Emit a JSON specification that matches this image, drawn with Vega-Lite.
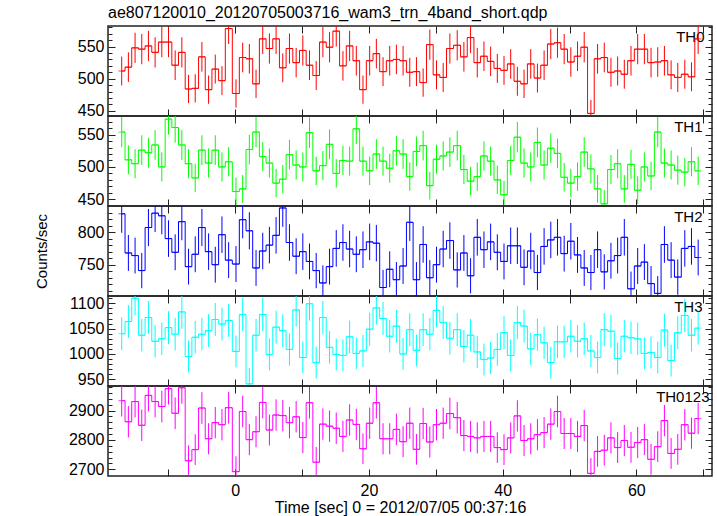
{
"$schema": "https://vega.github.io/schema/vega-lite/v6.json",
"padding": {"left": 33, "top": 3, "right": 5, "bottom": 2},
"autosize": {"type": "pad"},
"spacing": 0,
"bounds": "flush",
"config": {
  "font": "Liberation Sans",
  "view": {"stroke": "#222222", "strokeWidth": 1.5},
  "axis": {"domain": false, "grid": false, "tickColor": "#222222", "tickWidth": 1, "labelColor": "#000000", "labelFontSize": 16, "titleColor": "#000000", "titleFontWeight": "normal", "titleFontSize": 15, "labelOverlap": false, "format": "d"}
},
"data": {"values": [
{"t":-17,"a":512,"ea":22.5,"b":554,"eb":23.5,"c":828,"ec":29,"d":1040,"ed":32.5,"f":2934,"ef":54},
{"t":-16,"a":518,"ea":23,"b":511,"eb":22.5,"c":768,"ec":27.5,"d":1064,"ed":32.5,"f":2862,"ef":53.5},
{"t":-15,"a":548,"ea":23.5,"b":505,"eb":22.5,"c":764,"ec":27.5,"d":1110,"ed":33.5,"f":2931,"ef":54},
{"t":-14,"a":546,"ea":23.5,"b":526,"eb":23,"c":741,"ec":27,"d":1037,"ed":32,"f":2850,"ef":53.5},
{"t":-13,"a":551,"ea":23.5,"b":522,"eb":23,"c":807,"ec":28.5,"d":1072,"ed":32.5,"f":2952,"ef":54.5},
{"t":-12,"a":541,"ea":23.5,"b":534,"eb":23,"c":829,"ec":29,"d":1025,"ed":32,"f":2931,"ef":54},
{"t":-11,"a":557,"ea":23.5,"b":500,"eb":22.5,"c":825,"ec":28.5,"d":1030,"ed":32,"f":2914,"ef":54},
{"t":-10,"a":557,"ea":23.5,"b":574,"eb":24,"c":790,"ec":28,"d":1052,"ed":32.5,"f":2975,"ef":54.5},
{"t":-9,"a":521,"ea":23,"b":561,"eb":23.5,"c":769,"ec":27.5,"d":1039,"ed":32,"f":2891,"ef":54},
{"t":-8,"a":541,"ea":23.5,"b":534,"eb":23,"c":816,"ec":28.5,"d":1083,"ed":33,"f":2978,"ef":54.5},
{"t":-7,"a":484,"ea":22,"b":505,"eb":22.5,"c":747,"ec":27.5,"d":995,"ed":31.5,"f":2729,"ef":52},
{"t":-6,"a":485,"ea":22,"b":483,"eb":22,"c":766,"ec":27.5,"d":1033,"ed":32,"f":2767,"ef":52.5},
{"t":-5,"a":534,"ea":23,"b":526,"eb":23,"c":807,"ec":28.5,"d":1039,"ed":32,"f":2909,"ef":54},
{"t":-4,"a":483,"ea":22,"b":506,"eb":22.5,"c":770,"ec":28,"d":1046,"ed":32.5,"f":2804,"ef":53},
{"t":-3,"a":515,"ea":22.5,"b":526,"eb":23,"c":750,"ec":27.5,"d":1068,"ed":32.5,"f":2859,"ef":53.5},
{"t":-2,"a":497,"ea":22.5,"b":500,"eb":22.5,"c":796,"ec":28,"d":1059,"ed":32.5,"f":2852,"ef":53.5},
{"t":-1,"a":578,"ea":24,"b":508,"eb":22.5,"c":757,"ec":27.5,"d":1066,"ed":32.5,"f":2910,"ef":54},
{"t":0.1,"a":477,"ea":22,"b":462,"eb":21.5,"c":751,"ec":27.5,"d":1005,"ed":31.5,"f":2692,"ef":52},
{"t":1.1,"a":533,"ea":23,"b":466,"eb":21.5,"c":819,"ec":28.5,"d":1078,"ed":33,"f":2897,"ef":54},
{"t":2.1,"a":531,"ea":23,"b":527,"eb":23,"c":802,"ec":28.5,"d":941,"ed":31,"f":2801,"ef":53},
{"t":3.1,"a":492,"ea":22,"b":554,"eb":23.5,"c":745,"ec":27.5,"d":1037,"ed":32,"f":2828,"ef":53},
{"t":4.1,"a":562,"ea":23.5,"b":516,"eb":22.5,"c":771,"ec":28,"d":1078,"ed":33,"f":2928,"ef":54},
{"t":5.1,"a":547,"ea":23.5,"b":506,"eb":22.5,"c":780,"ec":28,"d":999,"ed":31.5,"f":2834,"ef":53},
{"t":6.1,"a":562,"ea":23.5,"b":475,"eb":22,"c":795,"ec":28,"d":1053,"ed":32.5,"f":2885,"ef":53.5},
{"t":7.1,"a":517,"ea":22.5,"b":481,"eb":22,"c":837,"ec":29,"d":1046,"ed":32.5,"f":2883,"ef":53.5},
{"t":8.1,"a":547,"ea":23.5,"b":519,"eb":23,"c":784,"ec":28,"d":1009,"ed":32,"f":2859,"ef":53.5},
{"t":9.1,"a":525,"ea":23,"b":503,"eb":22.5,"c":763,"ec":27.5,"d":1087,"ed":33,"f":2879,"ef":53.5},
{"t":10.1,"a":544,"ea":23.5,"b":500,"eb":22.5,"c":770,"ec":28,"d":993,"ed":31.5,"f":2808,"ef":53},
{"t":11.1,"a":521,"ea":23,"b":553,"eb":23.5,"c":755,"ec":27.5,"d":1099,"ed":33,"f":2927,"ef":54},
{"t":12.1,"a":505,"ea":22.5,"b":494,"eb":22,"c":741,"ec":27,"d":983,"ed":31.5,"f":2724,"ef":52},
{"t":13.1,"a":557,"ea":23.5,"b":502,"eb":22.5,"c":722,"ec":27,"d":1072,"ed":32.5,"f":2854,"ef":53.5},
{"t":14.1,"a":549,"ea":23.5,"b":535,"eb":23,"c":747,"ec":27.5,"d":1013,"ed":32,"f":2847,"ef":53.5},
{"t":15.1,"a":574,"ea":24,"b":490,"eb":22,"c":775,"ec":28,"d":999,"ed":31.5,"f":2840,"ef":53.5},
{"t":16.1,"a":520,"ea":23,"b":510,"eb":22.5,"c":784,"ec":28,"d":997,"ed":31.5,"f":2812,"ef":53},
{"t":17.1,"a":551,"ea":23.5,"b":509,"eb":22.5,"c":774,"ec":28,"d":1034,"ed":32,"f":2868,"ef":53.5},
{"t":18.1,"a":528,"ea":23,"b":559,"eb":23.5,"c":766,"ec":27.5,"d":1001,"ed":31.5,"f":2853,"ef":53.5},
{"t":19.1,"a":483,"ea":22,"b":509,"eb":22.5,"c":773,"ec":28,"d":1006,"ed":31.5,"f":2770,"ef":52.5},
{"t":20.1,"a":528,"ea":23,"b":494,"eb":22,"c":785,"ec":28,"d":1049,"ed":32.5,"f":2857,"ef":53.5},
{"t":21.1,"a":539,"ea":23,"b":520,"eb":23,"c":783,"ec":28,"d":1091,"ed":33,"f":2927,"ef":54},
{"t":22.1,"a":511,"ea":22.5,"b":509,"eb":22.5,"c":715,"ec":27,"d":1070,"ed":32.5,"f":2804,"ef":53},
{"t":23.1,"a":528,"ea":23,"b":498,"eb":22.5,"c":743,"ec":27.5,"d":1035,"ed":32,"f":2804,"ef":53},
{"t":24.1,"a":530,"ea":23,"b":525,"eb":23,"c":727,"ec":27,"d":1055,"ed":32.5,"f":2836,"ef":53.5},
{"t":25.1,"a":528,"ea":23,"b":520,"eb":23,"c":748,"ec":27.5,"d":1000,"ed":31.5,"f":2794,"ef":53},
{"t":26.1,"a":510,"ea":22.5,"b":485,"eb":22,"c":815,"ec":28.5,"d":1048,"ed":32.5,"f":2857,"ef":53.5},
{"t":27.1,"a":511,"ea":22.5,"b":524,"eb":23,"c":727,"ec":27,"d":1007,"ed":31.5,"f":2768,"ef":52.5},
{"t":28.1,"a":494,"ea":22,"b":533,"eb":23,"c":781,"ec":28,"d":1048,"ed":32.5,"f":2856,"ef":53.5},
{"t":29.1,"a":553,"ea":23.5,"b":471,"eb":21.5,"c":730,"ec":27,"d":1039,"ed":32,"f":2793,"ef":53},
{"t":30.1,"a":506,"ea":22.5,"b":512,"eb":22.5,"c":750,"ec":27.5,"d":1086,"ed":33,"f":2852,"ef":53.5},
{"t":31.1,"a":502,"ea":22.5,"b":517,"eb":22.5,"c":774,"ec":28,"d":1062,"ed":32.5,"f":2857,"ef":53.5},
{"t":32.1,"a":547,"ea":23.5,"b":523,"eb":23,"c":787,"ec":28,"d":1031,"ed":32,"f":2890,"ef":54},
{"t":33.2,"a":552,"ea":23.5,"b":533,"eb":23,"c":742,"ec":27,"d":1048,"ed":32.5,"f":2876,"ef":53.5},
{"t":34.2,"a":534,"ea":23,"b":496,"eb":22.5,"c":768,"ec":27.5,"d":1015,"ed":32,"f":2815,"ef":53},
{"t":35.2,"a":564,"ea":24,"b":478,"eb":22,"c":733,"ec":27,"d":1037,"ed":32,"f":2812,"ef":53},
{"t":36.2,"a":525,"ea":23,"b":485,"eb":22,"c":792,"ec":28,"d":1004,"ed":31.5,"f":2807,"ef":53},
{"t":37.2,"a":535,"ea":23,"b":517,"eb":22.5,"c":773,"ec":28,"d":989,"ed":31.5,"f":2812,"ef":53},
{"t":38.2,"a":527,"ea":23,"b":509,"eb":22.5,"c":785,"ec":28,"d":992,"ed":31.5,"f":2812,"ef":53},
{"t":39.2,"a":516,"ea":22.5,"b":480,"eb":22,"c":769,"ec":27.5,"d":1009,"ed":32,"f":2774,"ef":52.5},
{"t":40.2,"a":513,"ea":22.5,"b":457,"eb":21.5,"c":755,"ec":27.5,"d":1042,"ed":32.5,"f":2767,"ef":52.5},
{"t":41.2,"a":523,"ea":23,"b":510,"eb":22.5,"c":779,"ec":28,"d":997,"ed":31.5,"f":2807,"ef":53},
{"t":42.2,"a":496,"ea":22.5,"b":546,"eb":23.5,"c":779,"ec":28,"d":1062,"ed":32.5,"f":2882,"ef":53.5},
{"t":43.2,"a":492,"ea":22,"b":506,"eb":22.5,"c":746,"ec":27.5,"d":1055,"ed":32.5,"f":2798,"ef":53},
{"t":44.2,"a":523,"ea":23,"b":500,"eb":22.5,"c":771,"ec":28,"d":1010,"ed":32,"f":2804,"ef":53},
{"t":45.2,"a":501,"ea":22.5,"b":538,"eb":23,"c":738,"ec":27,"d":1038,"ed":32,"f":2818,"ef":53},
{"t":46.2,"a":521,"ea":23,"b":503,"eb":22.5,"c":778,"ec":28,"d":1022,"ed":32,"f":2825,"ef":53},
{"t":47.2,"a":554,"ea":23.5,"b":529,"eb":23,"c":788,"ec":28,"d":983,"ed":31.5,"f":2854,"ef":53.5},
{"t":48.2,"a":556,"ea":23.5,"b":521,"eb":23,"c":792,"ec":28,"d":1024,"ed":32,"f":2897,"ef":54},
{"t":49.2,"a":546,"ea":23.5,"b":484,"eb":22,"c":767,"ec":27.5,"d":1024,"ed":32,"f":2822,"ef":53},
{"t":50.2,"a":526,"ea":23,"b":475,"eb":22,"c":786,"ec":28,"d":1035,"ed":32,"f":2822,"ef":53},
{"t":51.2,"a":535,"ea":23,"b":485,"eb":22,"c":765,"ec":27.5,"d":1025,"ed":32,"f":2812,"ef":53},
{"t":52.2,"a":549,"ea":23.5,"b":523,"eb":23,"c":745,"ec":27.5,"d":1030,"ed":32,"f":2849,"ef":53.5},
{"t":53.2,"a":446,"ea":21,"b":497,"eb":22.5,"c":738,"ec":27,"d":1006,"ed":31.5,"f":2686,"ef":52},
{"t":54.2,"a":531,"ea":23,"b":466,"eb":21.5,"c":773,"ec":28,"d":993,"ed":31.5,"f":2761,"ef":52.5},
{"t":55.2,"a":533,"ea":23,"b":443,"eb":21,"c":739,"ec":27,"d":1048,"ed":32.5,"f":2765,"ef":52.5},
{"t":56.2,"a":510,"ea":22.5,"b":496,"eb":22.5,"c":756,"ec":27.5,"d":1045,"ed":32.5,"f":2807,"ef":53},
{"t":57.2,"a":512,"ea":22.5,"b":505,"eb":22.5,"c":764,"ec":27.5,"d":991,"ed":31.5,"f":2774,"ef":52.5},
{"t":58.2,"a":507,"ea":22.5,"b":466,"eb":21.5,"c":792,"ec":28,"d":1035,"ed":32,"f":2798,"ef":53},
{"t":59.2,"a":528,"ea":23,"b":504,"eb":22.5,"c":713,"ec":26.5,"d":1032,"ed":32,"f":2775,"ef":52.5},
{"t":60.2,"a":546,"ea":23.5,"b":464,"eb":21.5,"c":748,"ec":27.5,"d":1030,"ed":32,"f":2791,"ef":53},
{"t":61.2,"a":546,"ea":23.5,"b":500,"eb":22.5,"c":754,"ec":27.5,"d":1001,"ed":31.5,"f":2801,"ef":53},
{"t":62.2,"a":525,"ea":23,"b":486,"eb":22,"c":721,"ec":27,"d":1003,"ed":31.5,"f":2734,"ef":52.5},
{"t":63.2,"a":526,"ea":23,"b":554,"eb":23.5,"c":706,"ec":26.5,"d":993,"ed":31.5,"f":2777,"ef":52.5},
{"t":64.2,"a":528,"ea":23,"b":506,"eb":22.5,"c":781,"ec":28,"d":1047,"ed":32.5,"f":2866,"ef":53.5},
{"t":65.2,"a":506,"ea":22.5,"b":503,"eb":22.5,"c":757,"ec":27.5,"d":987,"ed":31.5,"f":2754,"ef":52.5},
{"t":66.2,"a":502,"ea":22.5,"b":495,"eb":22.5,"c":731,"ec":27,"d":1042,"ed":32.5,"f":2768,"ef":52.5},
{"t":67.25,"a":507,"ea":22.5,"b":492,"eb":22,"c":775,"ec":28,"d":1076,"ed":33,"f":2852,"ef":53.5},
{"t":68.25,"a":503,"ea":22.5,"b":508,"eb":22.5,"c":778,"ec":28,"d":1037,"ed":32,"f":2823,"ef":53},
{"t":69.25,"a":562,"ea":23.5,"b":494,"eb":22,"c":761,"ec":27.5,"d":1051,"ed":32.5,"f":2873,"ef":53.5}
]},
"vconcat": [
{
 "width": 604, "height": 90,
 "title": {"text": "ae807120010_20120705003716_wam3_trn_4band_short.qdp", "anchor": "start", "frame": "group", "fontSize": 16, "fontWeight": "normal", "color": "#000000", "offset": 5},
 "layer": [
  {"mark": {"type": "errorbar", "color": "#ff0000", "thickness": 1},
   "encoding": {
    "x": {"field": "t", "type": "quantitative", "scale": {"domain": [-19.05, 71.32], "nice": false, "zero": false}, "axis": {"orient": "bottom", "values": [-10,0,10,20,30,40,50,60,70], "tickSize": -7, "labels": false, "title": null}},
    "y": {"field": "a", "type": "quantitative", "scale": {"domain": [442, 582], "nice": false, "zero": false, "clamp": true}, "axis": {"orient": "left", "values": [450,500,550], "tickSize": -7, "labelPadding": 11, "title": null}},
    "yError": {"field": "ea"}}},
  {"mark": {"type": "line", "interpolate": "step", "color": "#ff0000", "strokeWidth": 1},
   "encoding": {
    "x": {"field": "t", "type": "quantitative", "axis": {"orient": "top", "values": [-10,0,10,20,30,40,50,60,70], "tickSize": -7, "labels": false, "title": null}},
    "y": {"field": "a", "type": "quantitative", "axis": {"orient": "right", "values": [450,500,550], "tickSize": -7, "labels": false, "title": "TH0", "titleAngle": 0, "titleAlign": "right", "titleBaseline": "alphabetic", "titleX": -8, "titleY": 15}}}},
  {"mark": {"type": "tick", "orient": "horizontal", "size": 6.7, "thickness": 1, "color": "#ff0000"},
   "encoding": {
    "x": {"field": "t", "type": "quantitative", "axis": null},
    "y": {"field": "a", "type": "quantitative", "axis": {"orient": "left", "values": [460,470,480,490,510,520,530,540,560,570,580], "tickSize": -4, "labels": false, "title": null}}}},
  {"mark": {"type": "point", "opacity": 0},
   "encoding": {
    "x": {"field": "t", "type": "quantitative", "axis": null},
    "y": {"field": "a", "type": "quantitative", "axis": {"orient": "right", "values": [460,470,480,490,510,520,530,540,560,570,580], "tickSize": -4, "labels": false, "title": null}}}}
 ],
 "resolve": {"axis": {"x": "independent", "y": "independent"}}
},
{
 "width": 604, "height": 90,
 "layer": [
  {"mark": {"type": "errorbar", "color": "#00ff00", "thickness": 1},
   "encoding": {
    "x": {"field": "t", "type": "quantitative", "scale": {"domain": [-19.05, 71.32], "nice": false, "zero": false}, "axis": {"orient": "bottom", "values": [-10,0,10,20,30,40,50,60,70], "tickSize": -7, "labels": false, "title": null}},
    "y": {"field": "b", "type": "quantitative", "scale": {"domain": [439.6, 578.8], "nice": false, "zero": false, "clamp": true}, "axis": {"orient": "left", "values": [450,500,550], "tickSize": -7, "labelPadding": 11, "title": null}},
    "yError": {"field": "eb"}}},
  {"mark": {"type": "line", "interpolate": "step", "color": "#00ff00", "strokeWidth": 1},
   "encoding": {
    "x": {"field": "t", "type": "quantitative", "axis": {"orient": "top", "values": [-10,0,10,20,30,40,50,60,70], "tickSize": -7, "labels": false, "title": null}},
    "y": {"field": "b", "type": "quantitative", "axis": {"orient": "right", "values": [450,500,550], "tickSize": -7, "labels": false, "title": "TH1", "titleAngle": 0, "titleAlign": "right", "titleBaseline": "alphabetic", "titleX": -10, "titleY": 15}}}},
  {"mark": {"type": "tick", "orient": "horizontal", "size": 6.7, "thickness": 1, "color": "#00ff00"},
   "encoding": {
    "x": {"field": "t", "type": "quantitative", "axis": null},
    "y": {"field": "b", "type": "quantitative", "axis": {"orient": "left", "values": [460,470,480,490,510,520,530,540,560,570], "tickSize": -4, "labels": false, "title": null}}}},
  {"mark": {"type": "point", "opacity": 0},
   "encoding": {
    "x": {"field": "t", "type": "quantitative", "axis": null},
    "y": {"field": "b", "type": "quantitative", "axis": {"orient": "right", "values": [460,470,480,490,510,520,530,540,560,570], "tickSize": -4, "labels": false, "title": null}}}}
 ],
 "resolve": {"axis": {"x": "independent", "y": "independent"}}
},
{
 "width": 604, "height": 90,
 "layer": [
  {"mark": {"type": "errorbar", "color": "#0000ff", "thickness": 1},
   "encoding": {
    "x": {"field": "t", "type": "quantitative", "scale": {"domain": [-19.05, 71.32], "nice": false, "zero": false}, "axis": {"orient": "bottom", "values": [-10,0,10,20,30,40,50,60,70], "tickSize": -7, "labels": false, "title": null}},
    "y": {"field": "c", "type": "quantitative", "scale": {"domain": [702, 840], "nice": false, "zero": false, "clamp": true}, "axis": {"orient": "left", "values": [750,800], "tickSize": -7, "labelPadding": 11, "title": "Counts/sec", "titleX": -67, "titleY": 45, "titleAngle": 270, "titleAlign": "center", "titleBaseline": "middle"}},
    "yError": {"field": "ec"}}},
  {"mark": {"type": "line", "interpolate": "step", "color": "#0000ff", "strokeWidth": 1},
   "encoding": {
    "x": {"field": "t", "type": "quantitative", "axis": {"orient": "top", "values": [-10,0,10,20,30,40,50,60,70], "tickSize": -7, "labels": false, "title": null}},
    "y": {"field": "c", "type": "quantitative", "axis": {"orient": "right", "values": [750,800], "tickSize": -7, "labels": false, "title": "TH2", "titleAngle": 0, "titleAlign": "right", "titleBaseline": "alphabetic", "titleX": -10, "titleY": 15}}}},
  {"mark": {"type": "tick", "orient": "horizontal", "size": 6.7, "thickness": 1, "color": "#0000ff"},
   "encoding": {
    "x": {"field": "t", "type": "quantitative", "axis": null},
    "y": {"field": "c", "type": "quantitative", "axis": {"orient": "left", "values": [710,720,730,740,760,770,780,790,810,820,830], "tickSize": -4, "labels": false, "title": null}}}},
  {"mark": {"type": "point", "opacity": 0},
   "encoding": {
    "x": {"field": "t", "type": "quantitative", "axis": null},
    "y": {"field": "c", "type": "quantitative", "axis": {"orient": "right", "values": [710,720,730,740,760,770,780,790,810,820,830], "tickSize": -4, "labels": false, "title": null}}}}
 ],
 "resolve": {"axis": {"x": "independent", "y": "independent"}}
},
{
 "width": 604, "height": 90,
 "layer": [
  {"mark": {"type": "errorbar", "color": "#00ffff", "thickness": 1},
   "encoding": {
    "x": {"field": "t", "type": "quantitative", "scale": {"domain": [-19.05, 71.32], "nice": false, "zero": false}, "axis": {"orient": "bottom", "values": [-10,0,10,20,30,40,50,60,70], "tickSize": -7, "labels": false, "title": null}},
    "y": {"field": "d", "type": "quantitative", "scale": {"domain": [936.8, 1114.4], "nice": false, "zero": false, "clamp": true}, "axis": {"orient": "left", "values": [950,1000,1050,1100], "tickSize": -7, "labelPadding": 11, "title": null}},
    "yError": {"field": "ed"}}},
  {"mark": {"type": "line", "interpolate": "step", "color": "#00ffff", "strokeWidth": 1},
   "encoding": {
    "x": {"field": "t", "type": "quantitative", "axis": {"orient": "top", "values": [-10,0,10,20,30,40,50,60,70], "tickSize": -7, "labels": false, "title": null}},
    "y": {"field": "d", "type": "quantitative", "axis": {"orient": "right", "values": [950,1000,1050,1100], "tickSize": -7, "labels": false, "title": "TH3", "titleAngle": 0, "titleAlign": "right", "titleBaseline": "alphabetic", "titleX": -10, "titleY": 15}}}},
  {"mark": {"type": "tick", "orient": "horizontal", "size": 6.7, "thickness": 1, "color": "#00ffff"},
   "encoding": {
    "x": {"field": "t", "type": "quantitative", "axis": null},
    "y": {"field": "d", "type": "quantitative", "axis": {"orient": "left", "values": [960,970,980,990,1010,1020,1030,1040,1060,1070,1080,1090,1110], "tickSize": -4, "labels": false, "title": null}}}},
  {"mark": {"type": "point", "opacity": 0},
   "encoding": {
    "x": {"field": "t", "type": "quantitative", "axis": null},
    "y": {"field": "d", "type": "quantitative", "axis": {"orient": "right", "values": [960,970,980,990,1010,1020,1030,1040,1060,1070,1080,1090,1110], "tickSize": -4, "labels": false, "title": null}}}}
 ],
 "resolve": {"axis": {"x": "independent", "y": "independent"}}
},
{
 "width": 604, "height": 90,
 "layer": [
  {"mark": {"type": "errorbar", "color": "#ff00ff", "thickness": 1},
   "encoding": {
    "x": {"field": "t", "type": "quantitative", "scale": {"domain": [-19.05, 71.32], "nice": false, "zero": false}, "axis": {"orient": "bottom", "values": [-10,0,10,20,30,40,50,60,70], "tickSize": -7, "labelPadding": 13, "labelExpr": "datum.value % 20 === 0 ? datum.label : ''", "title": "Time [sec] 0 = 2012/07/05 00:37:16", "titleFontSize": 16, "titleX": 292, "titleY": 31, "titleAlign": "center", "titleBaseline": "middle"}},
    "y": {"field": "f", "type": "quantitative", "scale": {"domain": [2677, 2984], "nice": false, "zero": false, "clamp": true}, "axis": {"orient": "left", "values": [2700,2800,2900], "tickSize": -7, "labelPadding": 11, "title": null}},
    "yError": {"field": "ef"}}},
  {"mark": {"type": "line", "interpolate": "step", "color": "#ff00ff", "strokeWidth": 1},
   "encoding": {
    "x": {"field": "t", "type": "quantitative", "axis": {"orient": "top", "values": [-10,0,10,20,30,40,50,60,70], "tickSize": -7, "labels": false, "title": null}},
    "y": {"field": "f", "type": "quantitative", "axis": {"orient": "right", "values": [2700,2800,2900], "tickSize": -7, "labels": false, "title": "TH0123", "titleAngle": 0, "titleAlign": "right", "titleBaseline": "alphabetic", "titleX": -3, "titleY": 15}}}},
  {"mark": {"type": "tick", "orient": "horizontal", "size": 6.7, "thickness": 1, "color": "#ff00ff"},
   "encoding": {
    "x": {"field": "t", "type": "quantitative", "axis": null},
    "y": {"field": "f", "type": "quantitative", "axis": {"orient": "left", "values": [2720,2740,2760,2780,2820,2840,2860,2880,2920,2940,2960,2980], "tickSize": -4, "labels": false, "title": null}}}},
  {"mark": {"type": "point", "opacity": 0},
   "encoding": {
    "x": {"field": "t", "type": "quantitative", "axis": null},
    "y": {"field": "f", "type": "quantitative", "axis": {"orient": "right", "values": [2720,2740,2760,2780,2820,2840,2860,2880,2920,2940,2960,2980], "tickSize": -4, "labels": false, "title": null}}}}
 ],
 "resolve": {"axis": {"x": "independent", "y": "independent"}}
}
]
}
